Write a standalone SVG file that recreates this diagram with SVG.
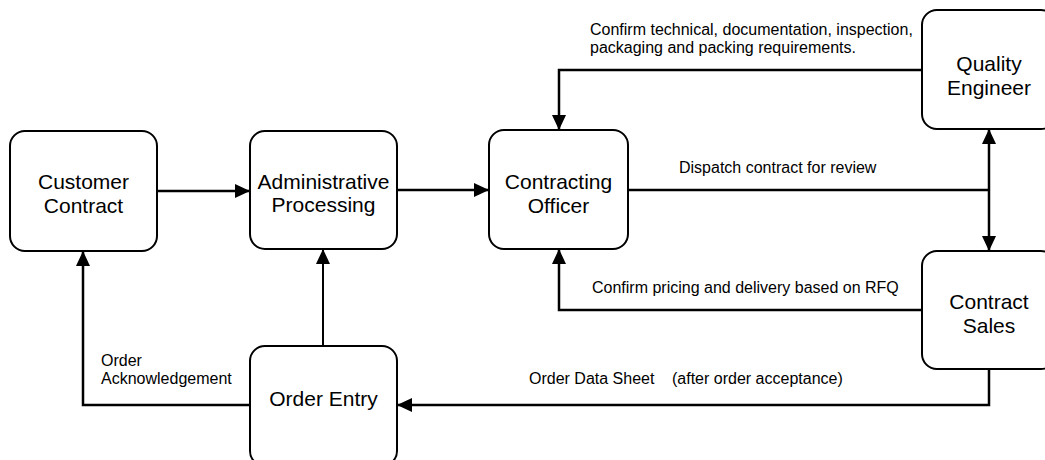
<svg xmlns="http://www.w3.org/2000/svg" width="1045" height="460" viewBox="0 0 1045 460">
<style>
.box{fill:#fff;stroke:#000;stroke-width:2}
.nt{font-family:"Liberation Sans",Arial,sans-serif;font-size:21px;fill:#000;text-anchor:middle}
.lt{font-family:"Liberation Sans",Arial,sans-serif;font-size:16px;fill:#000}
.c{fill:none;stroke:#000;stroke-width:2.5}
</style>
<defs>
<marker id="ah" markerUnits="userSpaceOnUse" markerWidth="16" markerHeight="15" refX="15" refY="7" orient="auto">
<path d="M0,0 L15,7 L0,14 Z" fill="#000"/>
</marker>
<marker id="as" markerUnits="userSpaceOnUse" markerWidth="16" markerHeight="15" refX="0" refY="7" orient="auto">
<path d="M15,0 L0,7 L15,14 Z" fill="#000"/>
</marker>
</defs>
<g id="connectors">
<line class="c" x1="157" y1="191" x2="250" y2="191" marker-end="url(#ah)"/>
<line class="c" x1="397" y1="190" x2="489" y2="190" marker-end="url(#ah)"/>
<polyline class="c" points="922,70 559,70 559,130" marker-end="url(#ah)"/>
<line class="c" x1="628" y1="190" x2="989" y2="190"/>
<line class="c" x1="989" y1="129" x2="989" y2="251" marker-start="url(#as)" marker-end="url(#ah)"/>
<polyline class="c" points="922,310 559,310 559,249" marker-end="url(#ah)"/>
<polyline class="c" points="989,369 989,405 397,405" marker-end="url(#ah)"/>
<polyline class="c" points="250,405 83,405 83,251" marker-end="url(#ah)"/>
<line class="c" style="stroke-width:2" x1="323" y1="346" x2="323" y2="249" marker-end="url(#ah)"/>
<text class="lt" x="590" y="35">Confirm technical, documentation, inspection,</text>
<text class="lt" x="590" y="53">packaging and packing requirements.</text>
<text class="lt" x="679" y="173">Dispatch contract for review</text>
<text class="lt" x="592" y="293">Confirm pricing and delivery based on RFQ</text>
<text class="lt" x="529" y="384">Order Data Sheet<tspan x="672">(after order acceptance)</tspan></text>
<text class="lt" x="101" y="366">Order</text>
<text class="lt" x="101" y="384">Acknowledgement</text>
</g>
<g id="customer-contract">
<rect class="box" x="10" y="131" width="147" height="120" rx="15"/>
<text class="nt" x="83.5" y="189">Customer</text>
<text class="nt" x="83.5" y="213">Contract</text>
</g>
<g id="administrative-processing">
<rect class="box" x="250" y="131" width="147" height="118" rx="15"/>
<text class="nt" x="323.5" y="189">Administrative</text>
<text class="nt" x="323.5" y="212">Processing</text>
</g>
<g id="contracting-officer">
<rect class="box" x="489" y="130" width="139" height="119" rx="15"/>
<text class="nt" x="558.5" y="189">Contracting</text>
<text class="nt" x="558.5" y="213">Officer</text>
</g>
<g id="quality-engineer">
<rect class="box" x="922" y="10" width="134" height="119" rx="15"/>
<text class="nt" x="989" y="71">Quality</text>
<text class="nt" x="989" y="95">Engineer</text>
</g>
<g id="contract-sales">
<rect class="box" x="922" y="251" width="134" height="118" rx="15"/>
<text class="nt" x="989" y="309">Contract</text>
<text class="nt" x="989" y="333">Sales</text>
</g>
<g id="order-entry">
<rect class="box" x="250" y="346" width="147" height="120" rx="15"/>
<text class="nt" x="323.5" y="406">Order Entry</text>
</g>
</svg>
